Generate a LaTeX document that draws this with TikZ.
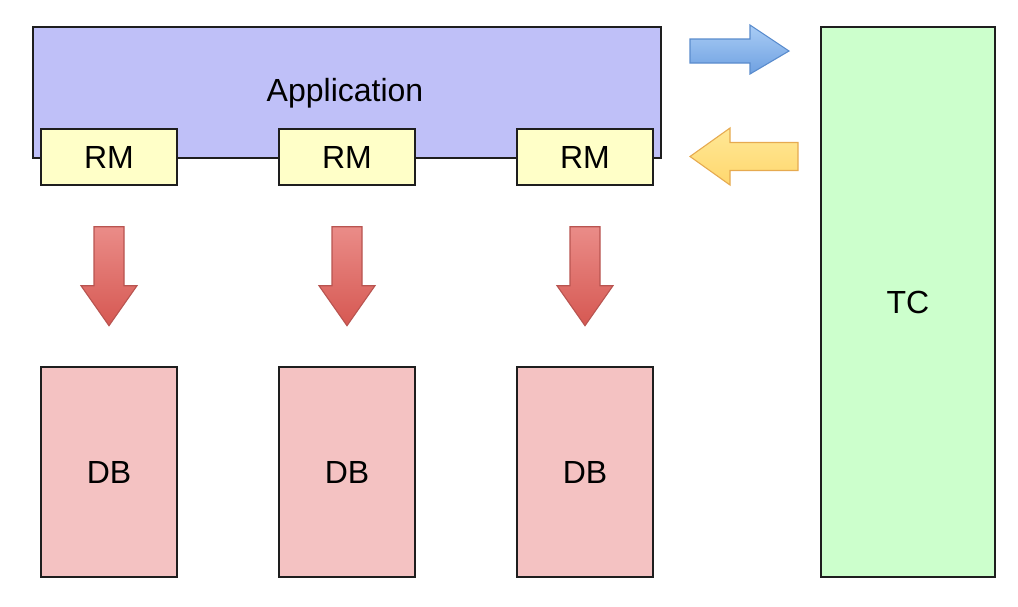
\documentclass[tikz,border=0pt]{standalone}
\usepackage{fontspec}
\setmainfont{Liberation Sans}
\usetikzlibrary{positioning}

\definecolor{appfill}{RGB}{191,192,248}
\definecolor{rmfill}{RGB}{255,255,200}
\definecolor{dbfill}{RGB}{244,194,194}
\definecolor{tcfill}{RGB}{204,255,204}
\definecolor{redtop}{RGB}{234,140,136}
\definecolor{redbot}{RGB}{214,88,82}
\definecolor{redline}{RGB}{184,84,80}
\definecolor{bluetop}{RGB}{170,205,245}
\definecolor{bluebot}{RGB}{110,160,225}
\definecolor{blueline}{RGB}{90,140,205}
\definecolor{yeltop}{RGB}{255,232,150}
\definecolor{yelbot}{RGB}{255,215,110}
\definecolor{yelline}{RGB}{230,170,80}

\tikzset{every picture/.style={line width=1.4pt}}
\tikzset{
  box/.style={draw={rgb,255:red,30;green,30;blue,30}, minimum width=136pt, minimum height=56pt, inner sep=0pt, font=\fontsize{32}{38}\selectfont},
  rmbox/.style={box, fill=rmfill},
  dbbox/.style={box, fill=dbfill, minimum height=210pt},
}

\begin{document}
\begin{tikzpicture}[x=1pt,y=1pt,yscale=-1,xscale=1]
\useasboundingbox (0,0) rectangle (1018,606);

%Shape: Rectangle [Application]
\node [box, fill=appfill, minimum width=628pt, minimum height=131pt] (app) at (347,92.5) {};
\node [font=\fontsize{32}{38}\selectfont, anchor=base, inner sep=0pt] (apptext) at (345,101) {Application};

%Shape: Rectangle [RM]
\node [rmbox] (rm1) at (109,157) {RM};
\node [rmbox] (rm2) at (347,157) {RM};
\node [rmbox] (rm3) at (585,157) {RM};

%Shape: Rectangle [DB]
\node [dbbox] (db1) at (109,472) {DB};
\node [dbbox] (db2) at (347,472) {DB};
\node [dbbox] (db3) at (585,472) {DB};

%Shape: Rectangle [TC]
\node [box, fill=tcfill, minimum width=174pt, minimum height=550pt] (tc) at (908,302) {TC};

%Shape: Down Arrows
\foreach \i in {1,2,3}{
  \coordinate (dn\i) at ([yshift=41pt]rm\i.south);
  \draw [redline, line width=1.1pt, top color=redtop, bottom color=redbot]
    ([xshift=-15pt]dn\i) -- ([xshift=15pt]dn\i) -- ([shift={(15pt,59pt)}]dn\i) -- ([shift={(28pt,59pt)}]dn\i)
    -- ([yshift=99pt]dn\i) -- ([shift={(-28pt,59pt)}]dn\i) -- ([shift={(-15pt,59pt)}]dn\i) -- cycle ;
}

%Shape: Right Arrow [to TC]
\coordinate (toTC) at (690,51);
\draw [blueline, line width=1.1pt, top color=bluetop, bottom color=bluebot]
  ([yshift=-12pt]toTC) -- ([shift={(60pt,-12pt)}]toTC) -- ([shift={(60pt,-26pt)}]toTC) -- ([xshift=99pt]toTC)
  -- ([shift={(60pt,23pt)}]toTC) -- ([shift={(60pt,12pt)}]toTC) -- ([yshift=12pt]toTC) -- cycle ;

%Shape: Left Arrow [from TC]
\coordinate (fromTC) at (690,156.5);
\draw [yelline, line width=1.1pt, top color=yeltop, bottom color=yelbot]
  (fromTC) -- ([shift={(40pt,-28.5pt)}]fromTC) -- ([shift={(40pt,-14pt)}]fromTC) -- ([shift={(108pt,-14pt)}]fromTC)
  -- ([shift={(108pt,14pt)}]fromTC) -- ([shift={(40pt,14pt)}]fromTC) -- ([shift={(40pt,28.5pt)}]fromTC) -- cycle ;

\end{tikzpicture}
\end{document}
